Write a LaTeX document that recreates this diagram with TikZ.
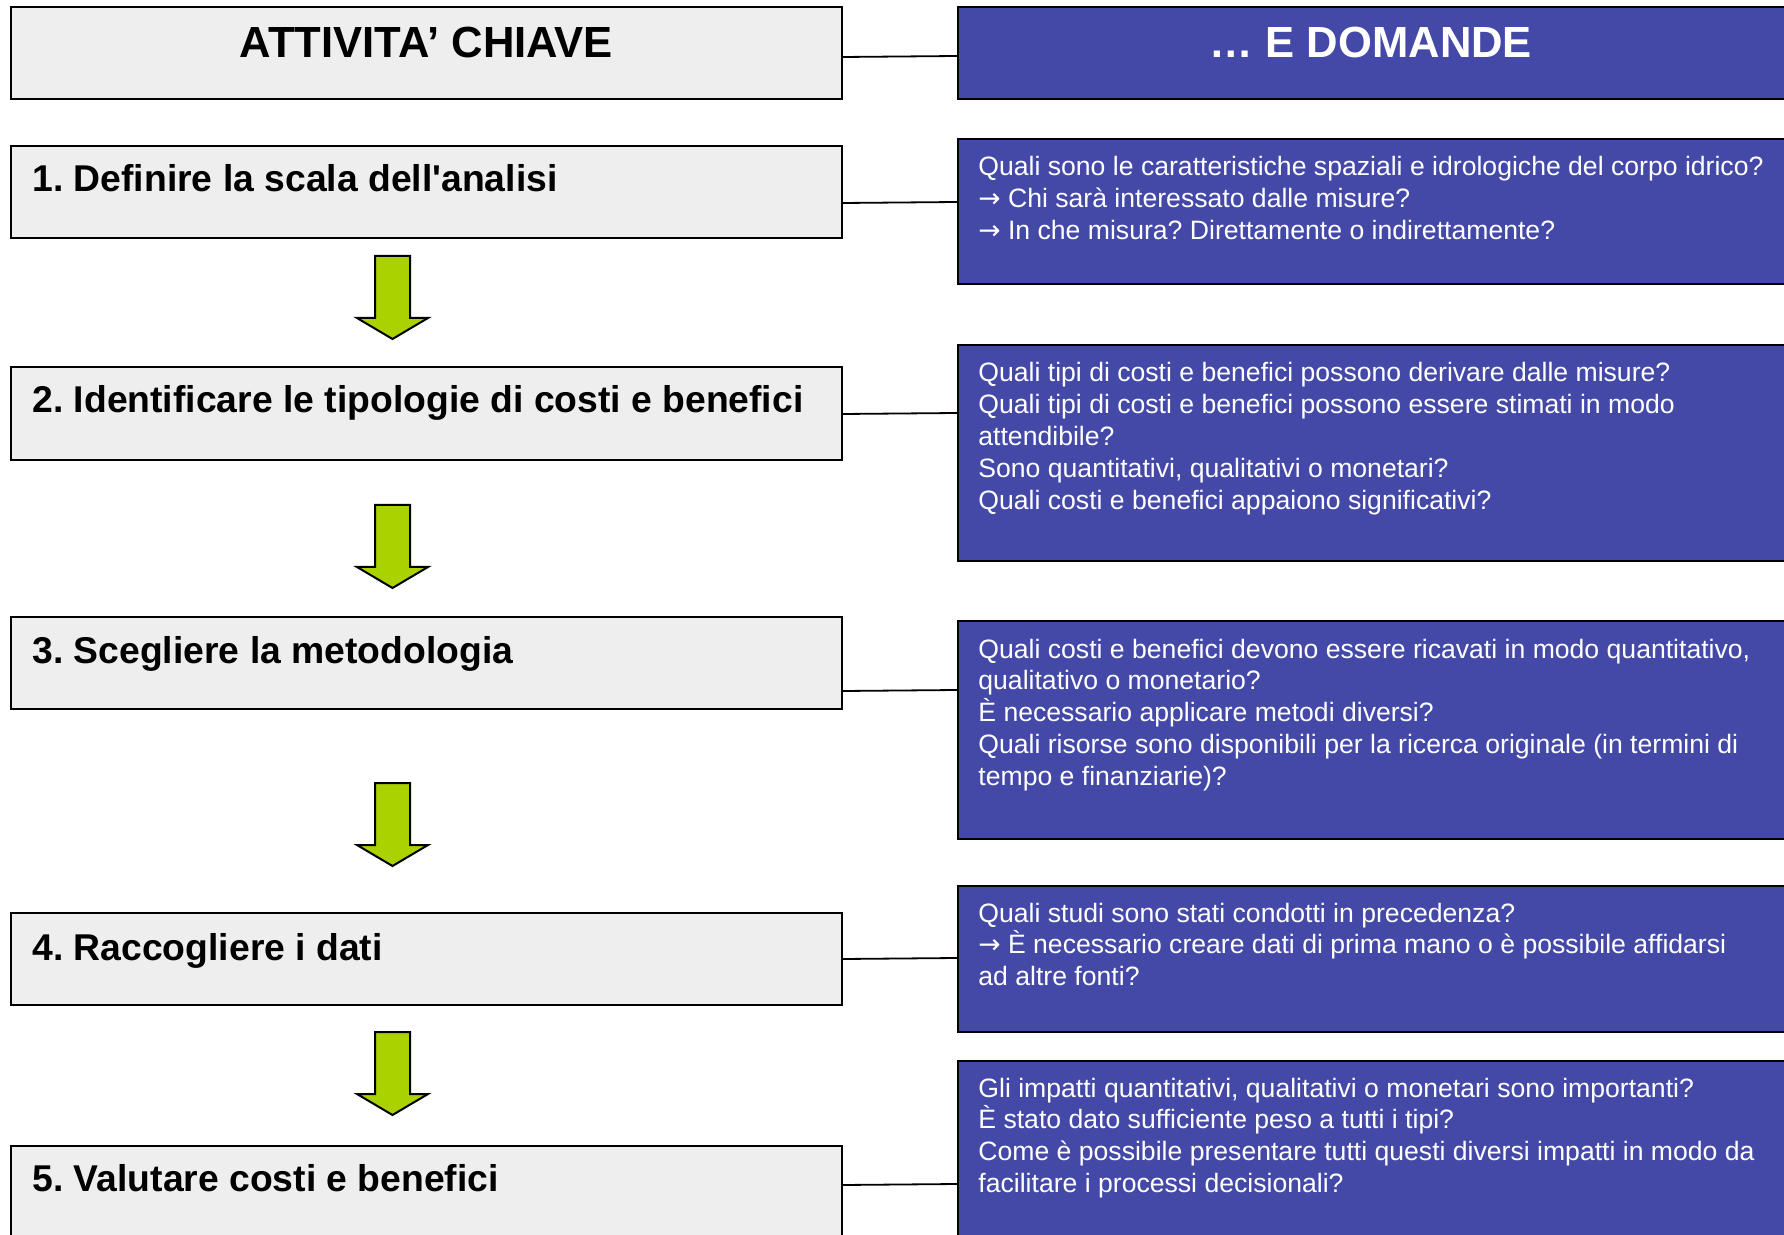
\documentclass[tikz,border=0pt]{standalone}
\usepackage{fontspec}
\setmainfont{Liberation Sans}[Ligatures=TeXOff]
\newfontfamily\arrowfont{DejaVu Sans}
\newcommand{\qarr}{{\arrowfont →}}
\usetikzlibrary{fit}
\definecolor{boxgray}{HTML}{EEEEEE}
\definecolor{boxblue}{RGB}{68,73,168}
\definecolor{arrgreen}{RGB}{170,210,0}
\frenchspacing
\tikzset{
  lbox/.style={draw=black, line width=1pt, fill=boxgray, inner sep=0pt},
  rbox/.style={draw=black, line width=1pt, fill=boxblue, inner sep=0pt},
  titletxt/.style={font=\fontsize{21.8pt}{25pt}\selectfont\bfseries, inner sep=0pt, anchor=base},
  steptxt/.style={font=\fontsize{18.65pt}{22pt}\selectfont\bfseries, inner sep=0pt, anchor=base west},
  qtxt/.style={font=\fontsize{13.3pt}{15.95pt}\selectfont, text=white, inner sep=0pt, anchor=base west},
  link/.style={draw=black, line width=0.9pt},
  downarrow/.style={draw=black, line width=1pt, fill=arrgreen, line join=miter},
}
\begin{document}
\begin{tikzpicture}[x=0.5pt,y=-0.5pt]
\clip (0,0) rectangle (1784,1235);
\fill[white] (0,0) rectangle (1784,1235);
% boxes
\node[lbox, fit={(11,7) (842,99)}] (L0) {};
\node[rbox, fit={(958,7) (1800,99)}] (R0) {};
\node[lbox, fit={(11,146) (842,238)}] (L1) {};
\node[rbox, fit={(958,139) (1800,284)}] (R1) {};
\node[lbox, fit={(11,367) (842,460)}] (L2) {};
\node[rbox, fit={(958,345) (1800,561)}] (R2) {};
\node[lbox, fit={(11,617) (842,709)}] (L3) {};
\node[rbox, fit={(958,621) (1800,839)}] (R3) {};
\node[lbox, fit={(11,913) (842,1005)}] (L4) {};
\node[rbox, fit={(958,886) (1800,1032)}] (R4) {};
\node[lbox, fit={(11,1146) (842,1260)}] (L5) {};
\node[rbox, fit={(958,1061) (1800,1260)}] (R5) {};
% connectors
\draw[link] (L0.east |- 0,57) -- (R0.west |- 0,56);
\draw[link] (L1.east |- 0,203) -- (R1.west |- 0,202);
\draw[link] (L2.east |- 0,414) -- (R2.west |- 0,413);
\draw[link] (L3.east |- 0,691) -- (R3.west |- 0,690);
\draw[link] (L4.east |- 0,959) -- (R4.west |- 0,958);
\draw[link] (L5.east |- 0,1185) -- (R5.west |- 0,1184);
% arrows
\foreach \t in {256,505,783,1032}
  \draw[downarrow] (375,\t) -- (410,\t) -- (410,\t+62) -- (428,\t+62) -- (392.5,\t+83) -- (357,\t+62) -- (375,\t+62) -- cycle;
% titles
\node[titletxt] (T0L) at (426.5,58) {ATTIVITA’ CHIAVE};
\node[titletxt, text=white] (T0R) at (1371,58) {… E DOMANDE};
% steps
\node[steptxt] (S1) at (32,192) {1. Definire la scala dell'analisi};
\node[steptxt] (S2) at (32,413) {2. Identificare le tipologie di costi e benefici};
\node[steptxt] (S3) at (32,663) {3. Scegliere la metodologia};
\node[steptxt] (S4) at (32,960) {4. Raccogliere i dati};
\node[steptxt] (S5) at (32,1191) {5. Valutare costi e benefici};
% questions
\node[qtxt] (Q1) at (978,176) {\vtop{\hbox{Quali sono le caratteristiche spaziali e idrologiche del corpo idrico?}\hbox{\qarr{} Chi sarà interessato dalle misure?}\hbox{\qarr{} In che misura? Direttamente o indirettamente?}}};
\node[qtxt] (Q2) at (978,382) {\vtop{\hbox{Quali tipi di costi e benefici possono derivare dalle misure?}\hbox{Quali tipi di costi e benefici possono essere stimati in modo}\hbox{attendibile?}\hbox{Sono quantitativi, qualitativi o monetari?}\hbox{Quali costi e benefici appaiono significativi?}}};
\node[qtxt] (Q3) at (978,658) {\vtop{\hbox{Quali costi e benefici devono essere ricavati in modo quantitativo,}\hbox{qualitativo o monetario?}\hbox{È necessario applicare metodi diversi?}\hbox{Quali risorse sono disponibili per la ricerca originale (in termini di}\hbox{tempo e finanziarie)?}}};
\node[qtxt] (Q4) at (978,922) {\vtop{\hbox{Quali studi sono stati condotti in precedenza?}\hbox{\qarr{} È necessario creare dati di prima mano o è possibile affidarsi}\hbox{ad altre fonti?}}};
\node[qtxt] (Q5) at (978,1097) {\vtop{\hbox{Gli impatti quantitativi, qualitativi o monetari sono importanti?}\hbox{È stato dato sufficiente peso a tutti i tipi?}\hbox{Come è possibile presentare tutti questi diversi impatti in modo da}\hbox{facilitare i processi decisionali?}}};
\end{tikzpicture}
\end{document}
